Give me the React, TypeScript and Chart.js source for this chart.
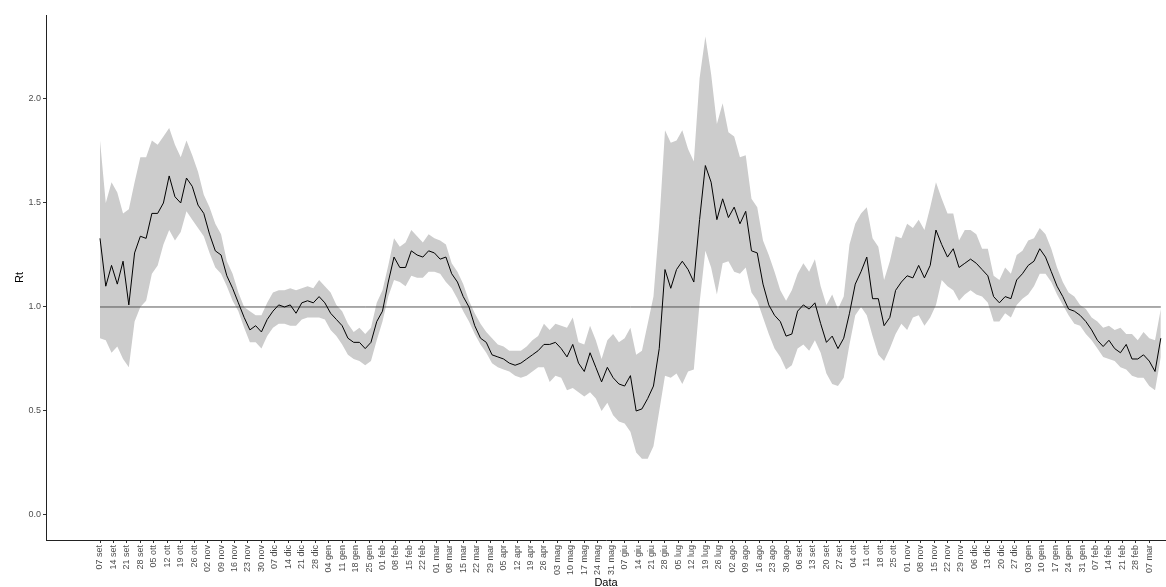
import { useEffect, useRef } from "react";
import { Chart, registerables } from "chart.js";

Chart.register(...registerables);

// Day 0 = 07 set 2020, one value every STEP_DAYS days
const STEP_DAYS = 3;

const TICK_LABELS = [
  "07 set", "14 set", "21 set", "28 set", "05 ott", "12 ott", "19 ott", "26 ott",
  "02 nov", "09 nov", "16 nov", "23 nov", "30 nov", "07 dic", "14 dic", "21 dic", "28 dic",
  "04 gen", "11 gen", "18 gen", "25 gen", "01 feb", "08 feb", "15 feb", "22 feb",
  "01 mar", "08 mar", "15 mar", "22 mar", "29 mar", "05 apr", "12 apr", "19 apr", "26 apr",
  "03 mag", "10 mag", "17 mag", "24 mag", "31 mag", "07 giu", "14 giu", "21 giu", "28 giu",
  "05 lug", "12 lug", "19 lug", "26 lug", "02 ago", "09 ago", "16 ago", "23 ago", "30 ago",
  "06 set", "13 set", "20 set", "27 set", "04 ott", "11 ott", "18 ott", "25 ott",
  "01 nov", "08 nov", "15 nov", "22 nov", "29 nov", "06 dic", "13 dic", "20 dic", "27 dic",
  "03 gen", "10 gen", "17 gen", "24 gen", "31 gen", "07 feb", "14 feb", "21 feb", "28 feb",
  "07 mar",
];

const Y_TICKS = [0, 0.5, 1, 1.5, 2];
const THRESHOLD = 1;

const RT_MEAN = [
  1.33, 1.10, 1.20, 1.11, 1.22, 1.01, 1.26, 1.34, 1.33, 1.45, 1.45, 1.50, 1.63, 1.53, 1.50, 1.62, 1.58, 1.49,
  1.45, 1.35, 1.27, 1.25, 1.15, 1.09, 1.02, 0.95, 0.89, 0.91, 0.88, 0.94, 0.98, 1.01, 1.00, 1.01, 0.97, 1.02,
  1.03, 1.02, 1.05, 1.02, 0.97, 0.94, 0.91, 0.85, 0.83, 0.83, 0.80, 0.83, 0.93, 0.98, 1.12, 1.24, 1.19, 1.19,
  1.27, 1.25, 1.24, 1.27, 1.26, 1.23, 1.24, 1.16, 1.12, 1.05, 1.00, 0.91, 0.85, 0.83, 0.77, 0.76, 0.75, 0.73, 0.72,
  0.73, 0.75, 0.77, 0.79, 0.82, 0.82, 0.83, 0.80, 0.76, 0.82, 0.73, 0.69, 0.78, 0.71, 0.64, 0.71, 0.66, 0.63,
  0.62, 0.67, 0.50, 0.51, 0.56, 0.62, 0.80, 1.18, 1.09, 1.18, 1.22, 1.18, 1.12, 1.42, 1.68, 1.60, 1.42, 1.52, 1.43,
  1.48, 1.40, 1.46, 1.27, 1.26, 1.11, 1.01, 0.96, 0.93, 0.86, 0.87, 0.98, 1.01, 0.99, 1.02, 0.92, 0.83, 0.86,
  0.80, 0.85, 0.97, 1.11, 1.17, 1.24, 1.04, 1.04, 0.91, 0.95, 1.08, 1.12, 1.15, 1.14, 1.20, 1.14, 1.20, 1.37,
  1.30, 1.24, 1.28, 1.19, 1.21, 1.23, 1.21, 1.18, 1.15, 1.05, 1.02, 1.05, 1.04, 1.13, 1.16, 1.20, 1.22, 1.28,
  1.24, 1.17, 1.10, 1.05, 0.99, 0.98, 0.96, 0.93, 0.89, 0.84, 0.81, 0.84, 0.80, 0.78, 0.82, 0.75, 0.75, 0.77,
  0.74, 0.69, 0.85,
];

const RT_HIGH = [
  1.80, 1.50, 1.60, 1.55, 1.45, 1.47, 1.60, 1.72, 1.72, 1.80, 1.78, 1.82, 1.86, 1.78, 1.72, 1.80, 1.73, 1.65,
  1.54, 1.48, 1.40, 1.35, 1.22, 1.16, 1.07, 1.00, 0.98, 0.96, 0.96, 1.02, 1.07, 1.08, 1.08, 1.09, 1.08, 1.09,
  1.10, 1.09, 1.13, 1.10, 1.07, 1.01, 0.98, 0.92, 0.88, 0.90, 0.87, 0.90, 1.02, 1.08, 1.20, 1.33, 1.29, 1.31,
  1.37, 1.34, 1.31, 1.35, 1.33, 1.32, 1.30, 1.21, 1.17, 1.11, 1.03, 0.97, 0.92, 0.88, 0.85, 0.82, 0.81, 0.79, 0.79,
  0.79, 0.81, 0.84, 0.86, 0.92, 0.89, 0.92, 0.91, 0.90, 0.95, 0.83, 0.82, 0.91, 0.84, 0.75, 0.84, 0.87, 0.83,
  0.85, 0.90, 0.77, 0.79, 0.92, 1.05, 1.40, 1.85, 1.79, 1.80, 1.85, 1.76, 1.70, 2.10, 2.30, 2.12, 1.88, 1.98, 1.84,
  1.82, 1.72, 1.73, 1.52, 1.48, 1.32, 1.25, 1.17, 1.08, 1.03, 1.08, 1.16, 1.21, 1.17, 1.23, 1.10, 1.01, 1.06,
  0.99, 1.05, 1.30, 1.40, 1.45, 1.48, 1.33, 1.29, 1.13, 1.22, 1.34, 1.33, 1.40, 1.38, 1.42, 1.37, 1.48, 1.60,
  1.52, 1.45, 1.45, 1.32, 1.37, 1.37, 1.35, 1.28, 1.28, 1.15, 1.13, 1.19, 1.16, 1.25, 1.27, 1.32, 1.33, 1.38,
  1.35, 1.28, 1.19, 1.12, 1.07, 1.05, 1.01, 0.99, 0.95, 0.93, 0.90, 0.91, 0.89, 0.90, 0.87, 0.87, 0.84, 0.88,
  0.85, 0.84, 0.99,
];

const RT_LOW = [
  0.85, 0.84, 0.78, 0.81, 0.75, 0.71, 0.93, 1.00, 1.03, 1.16, 1.20, 1.30, 1.37, 1.32, 1.36, 1.46, 1.42, 1.38,
  1.34, 1.26, 1.19, 1.16, 1.10, 1.03, 0.98, 0.90, 0.83, 0.83, 0.80, 0.86, 0.90, 0.92, 0.92, 0.91, 0.91, 0.94,
  0.95, 0.95, 0.95, 0.94, 0.89, 0.86, 0.82, 0.77, 0.75, 0.74, 0.72, 0.74, 0.84, 0.93, 1.05, 1.13, 1.12, 1.10,
  1.15, 1.14, 1.14, 1.17, 1.17, 1.16, 1.12, 1.09, 1.04, 0.98, 0.93, 0.87, 0.82, 0.78, 0.73, 0.71, 0.70, 0.69, 0.67,
  0.66, 0.67, 0.69, 0.71, 0.71, 0.64, 0.67, 0.66, 0.60, 0.61, 0.59, 0.57, 0.59, 0.56, 0.50, 0.54, 0.48, 0.45,
  0.44, 0.40, 0.30, 0.27, 0.27, 0.33, 0.50, 0.67, 0.66, 0.68, 0.63, 0.69, 0.70, 1.02, 1.27, 1.19, 1.06, 1.21, 1.22,
  1.17, 1.16, 1.19, 1.07, 1.03, 0.95, 0.87, 0.80, 0.76, 0.70, 0.72, 0.80, 0.82, 0.79, 0.84, 0.78, 0.68, 0.63,
  0.62, 0.66, 0.82, 0.96, 1.00, 0.96, 0.86, 0.77, 0.74, 0.80, 0.87, 0.92, 0.89, 0.95, 0.96, 0.91, 0.95, 1.01,
  1.13, 1.10, 1.08, 1.03, 1.06, 1.08, 1.06, 1.05, 1.02, 0.93, 0.93, 0.97, 0.95, 1.01, 1.04, 1.06, 1.10, 1.16,
  1.16, 1.12, 1.06, 1.01, 0.96, 0.92, 0.91, 0.87, 0.84, 0.80, 0.76, 0.75, 0.74, 0.71, 0.70, 0.67, 0.66, 0.66,
  0.62, 0.60, 0.76,
];

const FONT = "'Liberation Sans', Arial, Helvetica, sans-serif";
const X_MIN = -28.1;
const X_MAX = 554.7;

export default function App() {
  const ref = useRef<HTMLCanvasElement | null>(null);

  useEffect(() => {
    document.body.style.margin = "0";
    const canvas = ref.current;
    if (!canvas) return;
    const days = RT_MEAN.map((_, i) => i * STEP_DAYS);
    const pts = (arr: number[]) => arr.map((y, i) => ({ x: days[i], y }));
    const lastDay = days[days.length - 1];

    const axisGrid = {
      display: true,
      drawOnChartArea: false,
      drawTicks: true,
      tickLength: 3,
      color: "#333333",
      lineWidth: 1,
    };
    const axisBorder = { display: true, color: "#222222", width: 1 };

    const chart = new Chart(canvas, {
      type: "line",
      data: {
        datasets: [
          {
            label: "upper",
            data: pts(RT_HIGH),
            borderWidth: 0,
            borderColor: "rgba(0,0,0,0)",
            backgroundColor: "rgb(204,204,204)",
            pointRadius: 0,
            fill: "+1",
            order: 3,
          },
          {
            label: "lower",
            data: pts(RT_LOW),
            borderWidth: 0,
            borderColor: "rgba(0,0,0,0)",
            backgroundColor: "rgb(204,204,204)",
            pointRadius: 0,
            fill: false,
            order: 3,
          },
          {
            label: "soglia",
            data: [
              { x: 0, y: THRESHOLD },
              { x: lastDay, y: THRESHOLD },
            ],
            borderColor: "#555555",
            borderWidth: 1,
            pointRadius: 0,
            fill: false,
            order: 2,
          },
          {
            label: "Rt",
            data: pts(RT_MEAN),
            borderColor: "#000000",
            borderWidth: 1,
            pointRadius: 0,
            fill: false,
            order: 1,
          },
        ],
      },
      options: {
        animation: false,
        responsive: false,
        maintainAspectRatio: false,
        layout: { padding: { top: 15, left: 0, right: 0, bottom: 0 } },
        elements: { line: { tension: 0 } },
        plugins: { legend: { display: false }, tooltip: { enabled: false } },
        scales: {
          x: {
            type: "linear",
            min: X_MIN,
            max: X_MAX,
            afterBuildTicks: (s: any) => {
              s.ticks = TICK_LABELS.map((_, i) => ({ value: i * 7 }));
            },
            afterFit: (s: any) => {
              s.height = 47;
              s.paddingLeft = 0;
              s.paddingRight = 0;
            },
            ticks: {
              autoSkip: false,
              minRotation: 90,
              maxRotation: 90,
              padding: 2,
              color: "#4d4d4d",
              font: { family: FONT, size: 9 },
              callback: (_v: any, i: number) => TICK_LABELS[i],
            },
            grid: axisGrid,
            border: axisBorder,
            title: {
              display: true,
              text: "Data",
              color: "#000000",
              font: { family: FONT, size: 11 },
              padding: { top: 0, bottom: -3 },
            },
          },
          y: {
            type: "linear",
            min: -0.1202,
            max: 2.4038,
            afterBuildTicks: (s: any) => {
              s.ticks = Y_TICKS.map((v) => ({ value: v }));
            },
            afterFit: (s: any) => {
              s.width = 46;
              s.paddingTop = 0;
              s.paddingBottom = 0;
            },
            ticks: {
              padding: 2,
              color: "#4d4d4d",
              font: { family: FONT, size: 9 },
              callback: (v: any) => Number(v).toFixed(1),
            },
            grid: axisGrid,
            border: axisBorder,
            title: {
              display: true,
              text: "Rt",
              color: "#000000",
              font: { family: FONT, size: 11 },
              padding: { top: 13, bottom: 0 },
            },
          },
        },
      },
    } as any);

    return () => chart.destroy();
  }, []);

  return (
    <div style={{ width: 1166, height: 587 }}>
      <canvas ref={ref} width={1166} height={587} style={{ display: "block" }} />
    </div>
  );
}
